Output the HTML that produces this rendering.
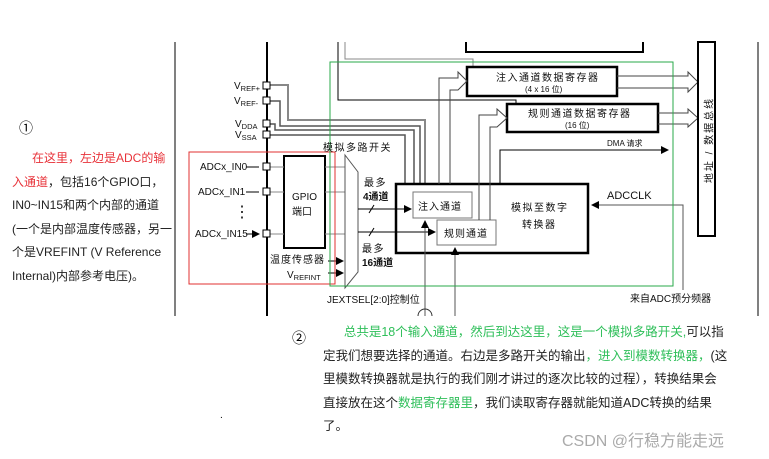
<!DOCTYPE html>
<html><head><meta charset="utf-8"><style>
body{margin:0;background:#fff;width:769px;height:459px;overflow:hidden;font-family:"Liberation Sans","Noto Sans CJK SC",sans-serif}
svg{position:absolute;left:0;top:0}
.p{position:absolute;font-size:12.5px;line-height:23.5px;color:#222;white-space:nowrap}
.r{color:#e8333a}.g{color:#2fbf5a}
</style></head><body>
<svg width="769" height="459" viewBox="0 0 769 459" font-family="Liberation Sans, Noto Sans CJK SC, sans-serif">
<defs><marker id="a" markerWidth="8" markerHeight="8" refX="7" refY="4" orient="auto" markerUnits="userSpaceOnUse"><path d="M0,0L8,4L0,8z" fill="#000"/></marker></defs>
<g fill="none" stroke="#000">
<line x1="175" y1="42" x2="175" y2="316" stroke-width="1"/>
<line x1="758" y1="42" x2="758" y2="316" stroke-width="1"/>
<line x1="267" y1="42" x2="267" y2="316" stroke-width="2"/>
<path d="M466,42V52H643V42" stroke-width="2"/>
<path d="M338,42V100H516V104" stroke-width="1"/>
<path d="M345,42V59H473V67" stroke="#888"/>
<path d="M270,85H288V120H425V184" stroke="#888" stroke-width="2"/>
<path d="M270,101H280V126H420V184" stroke="#555" stroke-width="1.5"/>
<path d="M270,124H275V130H414V184" stroke="#555" stroke-width="1.5"/>
<path d="M270,135H405V184" stroke="#555" stroke-width="1.5"/>
<rect x="284" y="156" width="41" height="92" stroke-width="2"/>
<path d="M270,167H284M270,192H284M270,234H284M325,167H345M325,192H345M325,234H345" stroke="#888"/>
<path d="M345,155L358,172V272L345,288Z" stroke="#555"/>
<line x1="358" y1="209" x2="411" y2="209" marker-end="url(#a)"/>
<line x1="358" y1="232" x2="435" y2="232" marker-end="url(#a)"/>
<line x1="369" y1="213" x2="374" y2="205"/><line x1="369" y1="236" x2="374" y2="228"/>
<line x1="328" y1="261" x2="343" y2="261" marker-end="url(#a)"/>
<line x1="328" y1="273" x2="343" y2="273" marker-end="url(#a)"/>
<rect x="396" y="184" width="192" height="69" stroke-width="2.5"/>
<rect x="413" y="192" width="59" height="26" fill="#fff" stroke="#777"/>
<rect x="437" y="220" width="59" height="25" fill="#fff" stroke="#777"/>
<line x1="425" y1="316" x2="425" y2="221" stroke="#555" marker-end="url(#a)"/>
<line x1="455" y1="316" x2="455" y2="248" stroke="#555" marker-end="url(#a)"/>
<path d="M418,316A7,7 0 0 1 432,316" stroke="#333"/>
<rect x="467" y="67" width="150" height="29" stroke-width="2.5"/>
<rect x="507" y="104" width="151" height="28" stroke-width="2.5"/>
<path d="M439,184V78H458V72L467,81L458,90V90H450V184" stroke="#444"/>
<path d="M479,220V115H497V109L507,118L497,127H490V220" stroke="#444"/>
<path d="M617,76H688V72L698,82L688,92V88H617" stroke="#444"/>
<path d="M658,113H688V109L698,118L688,127V124H658" stroke="#444"/>
<rect x="698" y="42" width="17" height="194" stroke-width="2"/>
<path d="M500,184V150H668" marker-end="url(#a)"/>
<path d="M683,290V205H592" stroke="#555" marker-end="url(#a)"/>
<rect x="189" y="152" width="146" height="132" stroke="#e03030"/>
<rect x="330" y="62" width="343" height="224" stroke="#2aa84a"/>
<g fill="#fff" stroke="#000"><rect x="263" y="82" width="7" height="7"/><rect x="263" y="97" width="7" height="7"/><rect x="263" y="120" width="7" height="7"/><rect x="263" y="131" width="7" height="7"/><rect x="263" y="163" width="7" height="7"/><rect x="263" y="188" width="7" height="7"/><rect x="263" y="230" width="7" height="7"/></g>
<path d="M246,167H259M246,192H259M246,234H259" marker-end="url(#a)"/>
</g>
<g font-size="10" fill="#111">
<text x="234" y="89">V<tspan font-size="7.5" dy="2">REF+</tspan></text>
<text x="234" y="104">V<tspan font-size="7.5" dy="2">REF-</tspan></text>
<text x="235" y="127">V<tspan font-size="7.5" dy="2">DDA</tspan></text>
<text x="235" y="138">V<tspan font-size="7.5" dy="2">SSA</tspan></text>
<text x="200" y="170">ADCx_IN0</text><text x="198" y="195">ADCx_IN1</text><text x="195" y="237">ADCx_IN15</text>
<text x="234" y="217" font-size="16">⋮</text>
<text x="292" y="200">GPIO</text><text x="292" y="215">端口</text>
<text x="270" y="263" letter-spacing="1">温度传感器</text>
<text x="287" y="278">V<tspan font-size="7.5" dy="2">REFINT</tspan></text>
<text x="323" y="151" letter-spacing="1.5">模拟多路开关</text>
<text x="364" y="186" letter-spacing="1.5">最多</text><text x="363" y="200" font-weight="bold">4通道</text>
<text x="362" y="252" letter-spacing="1.5">最多</text><text x="362" y="266" font-weight="bold">16通道</text>
<text x="418" y="210" letter-spacing="1">注入通道</text><text x="444" y="237" letter-spacing="1">规则通道</text>
<text x="511" y="211" letter-spacing="1.5">模拟至数字</text><text x="522" y="228" letter-spacing="1.5">转换器</text>
<text x="496" y="81" letter-spacing="1.5">注入通道数据寄存器</text><text x="525" y="92" font-size="8">(4 x 16 位)</text>
<text x="528" y="117" letter-spacing="1.5">规则通道数据寄存器</text><text x="565" y="128" font-size="8">(16 位)</text>
<text x="607" y="146" font-size="8">DMA 请求</text>
<text x="607" y="199" font-size="11">ADCCLK</text>
<text x="630" y="302">来自ADC预分频器</text>
<text x="327" y="303">JEXTSEL[2:0]控制位</text>
<text x="710" y="140" transform="rotate(-90 710 140)" font-size="10" text-anchor="middle" dominant-baseline="middle" letter-spacing="2">地址 / 数据总线</text>
</g>
<text x="19" y="133" font-size="14">①</text>
<text x="292" y="343" font-size="14">②</text>
<text x="220" y="418" font-size="10">.</text>
<text x="562" y="446" font-size="16" fill="#aaa">CSDN @行稳方能走远</text>
</svg>
<div class="p" style="left:12px;top:147px;font-size:12px"><span class="r">&nbsp;&nbsp;&nbsp;&nbsp;&nbsp;&nbsp;在这里，左边是ADC的输<br>入通道</span>，包括16个GPIO口，<br>IN0~IN15和两个内部的通道<br>(一个是内部温度传感器，另一<br>个是VREFINT (V Reference<br>Internal)内部参考电压)。</div>
<div class="p" style="left:323px;top:321px"><span class="g">&nbsp;&nbsp;&nbsp;&nbsp;&nbsp;&nbsp;总共是18个输入通道，然后到达这里，这是一个模拟多路开关,</span>可以指<br>定我们想要选择的通道。右边是多路开关的输出<span class="g">，进入到模数转换器，</span>(这<br>里模数转换器就是执行的我们刚才讲过的逐次比较的过程），转换结果会<br>直接放在这个<span class="g">数据寄存器里</span>，我们读取寄存器就能知道ADC转换的结果<br>了。</div>
</body></html>
